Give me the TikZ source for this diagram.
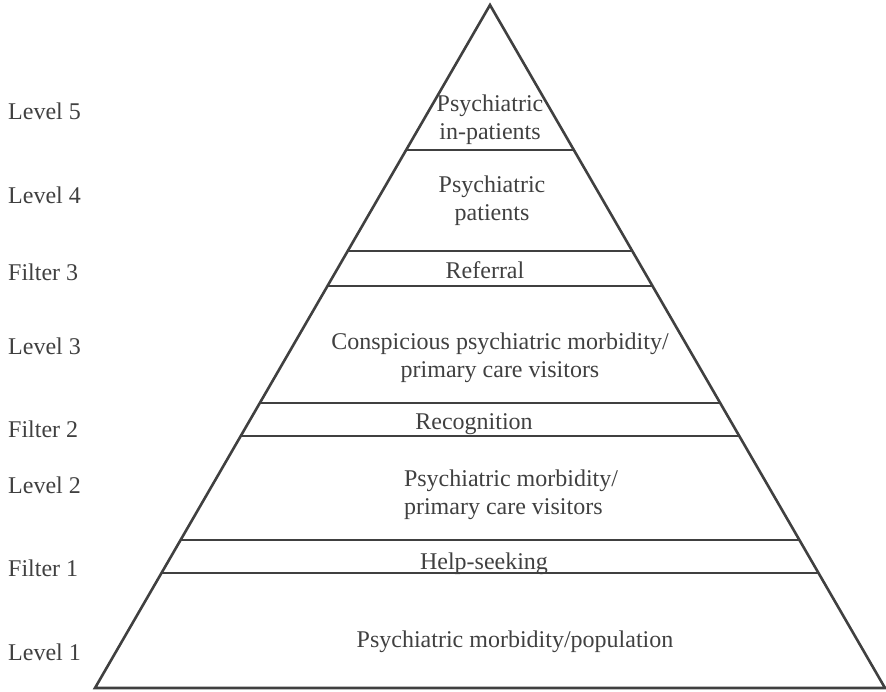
\documentclass[tikz,border=0pt]{standalone}
\usepackage{fontspec}
\setmainfont{Liberation Serif}
\usepackage{tikz}
\usetikzlibrary{positioning}
\usetikzlibrary{calc}
\definecolor{inkColor}{rgb}{0.25,0.25,0.25}

\begin{document}
\begin{tikzpicture}[x=1pt,y=1pt]

          \tikzstyle{sideLabel} = [inkColor, anchor=west, inner sep=0pt, font=\fontsize{24}{28}\selectfont];
          \tikzstyle{bandLabel} = [inkColor, align=center, inner sep=0pt, font=\fontsize{24}{28}\selectfont];
          \tikzstyle{outerEdge} = [inkColor, line width=2.6pt, line join=miter];
          \tikzstyle{bandEdge} = [inkColor, line width=1.3pt];

          \useasboundingbox (0,0) rectangle (886,692);

          % triangle corners
          \coordinate (apex) at (490,687);
          \coordinate (bl) at (95,4);
          \coordinate (br) at (885,4);

          % band boundaries on the two sides
          \coordinate (l5) at ($(apex)!{145/683}!(bl)$);
          \coordinate (r5) at ($(apex)!{145/683}!(br)$);
          \coordinate (l4) at ($(apex)!{246/683}!(bl)$);
          \coordinate (r4) at ($(apex)!{246/683}!(br)$);
          \coordinate (lf3) at ($(apex)!{281/683}!(bl)$);
          \coordinate (rf3) at ($(apex)!{281/683}!(br)$);
          \coordinate (l3) at ($(apex)!{398/683}!(bl)$);
          \coordinate (r3) at ($(apex)!{398/683}!(br)$);
          \coordinate (lf2) at ($(apex)!{431/683}!(bl)$);
          \coordinate (rf2) at ($(apex)!{431/683}!(br)$);
          \coordinate (l2) at ($(apex)!{535/683}!(bl)$);
          \coordinate (r2) at ($(apex)!{535/683}!(br)$);
          \coordinate (lf1) at ($(apex)!{568/683}!(bl)$);
          \coordinate (rf1) at ($(apex)!{568/683}!(br)$);

          \draw[outerEdge] (apex) -- (bl) -- (br) -- cycle;

          \draw[bandEdge] (l5) -- (r5);
          \draw[bandEdge] (l4) -- (r4);
          \draw[bandEdge] (lf3) -- (rf3);
          \draw[bandEdge] (l3) -- (r3);
          \draw[bandEdge] (lf2) -- (rf2);
          \draw[bandEdge] (l2) -- (r2);
          \draw[bandEdge] (lf1) -- (rf1);

          % labels on the left
          \node[sideLabel] (lev5) at (8,581) {Level 5};
          \node[sideLabel] (lev4) at (8,497) {Level 4};
          \node[sideLabel] (fil3) at (8,420) {Filter 3};
          \node[sideLabel] (lev3) at (8,346) {Level 3};
          \node[sideLabel] (fil2) at (8,263) {Filter 2};
          \node[sideLabel] (lev2) at (8,207) {Level 2};
          \node[sideLabel] (fil1) at (8,124) {Filter 1};
          \node[sideLabel] (lev1) at (8,40) {Level 1};

          % labels inside the pyramid
          \node[bandLabel] (inpat) at (490,572) {Psychiatric\\in-patients};
          \node[bandLabel] (pat) at (492,491) {Psychiatric\\patients};
          \node[bandLabel] (referral) at (485,422) {Referral};
          \node[bandLabel] (conspic) at (500,334) {Conspicious psychiatric morbidity/\\primary care visitors};
          \node[bandLabel] (recog) at (474,268) {Recognition};
          \node[bandLabel, align=left] (morbid) at (511,197) {Psychiatric morbidity/\\primary care visitors};
          \node[bandLabel] (help) at (484,128) {Help-seeking};
          \node[bandLabel] (popul) at (515,50) {Psychiatric morbidity/population};
        \end{tikzpicture}
\end{document}
